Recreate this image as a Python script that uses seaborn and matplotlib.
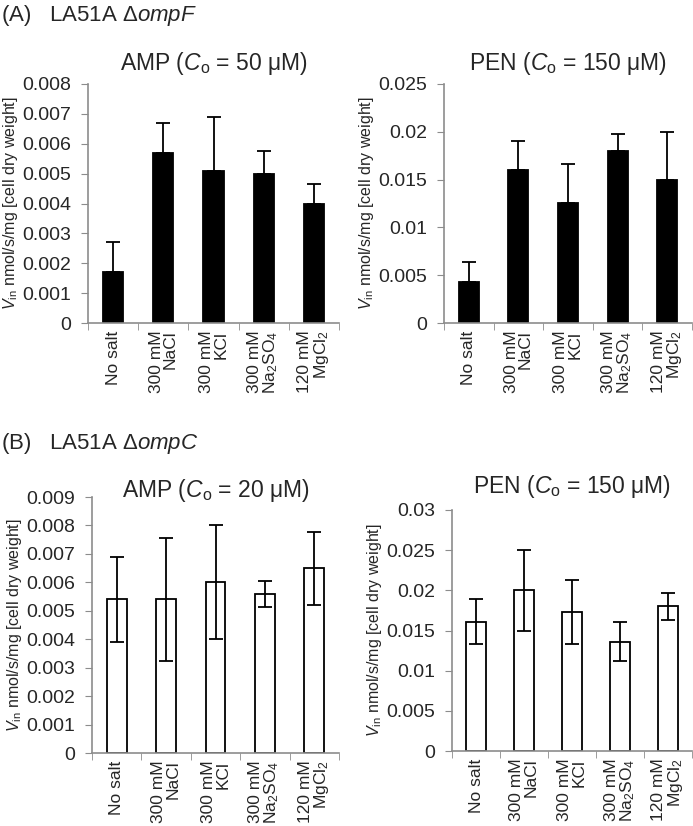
import numpy as np
import pandas as pd
import seaborn as sns
import matplotlib.pyplot as plt
from matplotlib.ticker import FuncFormatter, FixedLocator

# categories (salt conditions)
salts = ["No salt", "300 mM\nNaCl", "300 mM\nKCl", "300 mM\nNa$_2$SO$_4$", "120 mM\nMgCl$_2$"]

# (A) LA51A ompF - bar value and upper error
a_amp = [0.0017, 0.0057, 0.0051, 0.0050, 0.0040]
a_amp_err = [0.0010, 0.0010, 0.0018, 0.00075, 0.00065]
a_pen = [0.0043, 0.0160, 0.0126, 0.0180, 0.0150]
a_pen_err = [0.0021, 0.0030, 0.0040, 0.0018, 0.0050]

# (B) LA51A ompC - bar value and symmetric error
b_amp = [0.0054, 0.0054, 0.0060, 0.0056, 0.0065]
b_amp_err = [0.0015, 0.00215, 0.0020, 0.00045, 0.00128]
b_pen = [0.0161, 0.0200, 0.0173, 0.0136, 0.0180]
b_pen_err = [0.0028, 0.0050, 0.0040, 0.0024, 0.0017]

sns.set_style("white")
plt.rcParams['font.family'] = ['Liberation Sans', 'DejaVu Sans']
plt.rcParams['mathtext.fontset'] = 'custom'
plt.rcParams['mathtext.rm'] = 'Liberation Sans'
plt.rcParams['mathtext.it'] = 'Liberation Sans:italic'

fig = plt.figure(figsize=(6.93, 8.26), dpi=100)
W, H = 693, 826


def box(l, r, t, b):
    return [l / W, 1 - b / H, (r - l) / W, (b - t) / H]


def panel(rect, vals, errs, ymax, step, title, filled, upper_only, tpad):
    ax = fig.add_axes(rect)
    df = pd.DataFrame({"salt": salts, "v": vals})
    face = "black" if filled else "white"
    sns.barplot(data=df, x="salt", y="v", color=face, edgecolor="black",
                linewidth=1.3, width=0.4, saturation=1, errorbar=None, ax=ax)
    x = np.arange(len(vals))
    if upper_only:
        yerr = [np.zeros(len(errs)), errs]
    else:
        yerr = errs
    ax.errorbar(x, vals, yerr=yerr, fmt="none", ecolor="black",
                elinewidth=1.3, capsize=5, capthick=1.3)
    ax.set_xlim(-0.5, 4.5)
    ax.set_ylim(0, ymax)
    ax.set_yticks(np.arange(0, ymax + step / 2, step))
    ax.yaxis.set_major_formatter(FuncFormatter(lambda v, p: "%g" % round(v, 4)))
    ax.set_xlabel("")
    ax.set_ylabel("$\\it{V}_{\\rm in}$ nmol/s/mg [cell dry weight]", fontsize=11.5, labelpad=2)
    ax.set_title(title, fontsize=16.5, pad=tpad)
    for s in ["top", "right"]:
        ax.spines[s].set_visible(False)
    for s in ["left", "bottom"]:
        ax.spines[s].set_color("#8c8c8c")
        ax.spines[s].set_linewidth(1.2)
    ax.tick_params(axis="y", which="major", left=True, length=5, color="#8c8c8c",
                   labelsize=14, direction="out", pad=7)
    ax.tick_params(axis="x", which="major", bottom=False, labelsize=12.5, pad=2)
    ax.xaxis.set_minor_locator(FixedLocator(np.arange(-0.5, 5, 1)))
    ax.tick_params(axis="x", which="minor", bottom=True, length=5, color="#8c8c8c",
                   direction="out")
    ax.set_xticks(x)
    ax.set_xticklabels(salts, rotation=90, ha="center", va="top",
                       multialignment="right", linespacing=0.95)
    return ax


panel(box(88, 339, 84, 323), a_amp, a_amp_err, 0.008, 0.001,
      "AMP ($\\it{C}_{\\rm o}$ = 50 μM)", True, True, 10)
panel(box(444, 692, 84, 323), a_pen, a_pen_err, 0.025, 0.005,
      "PEN ($\\it{C}_{\\rm o}$ = 150 μM)", True, True, 10)
panel(box(92, 339, 497, 753), b_amp, b_amp_err, 0.009, 0.001,
      "AMP ($\\it{C}_{\\rm o}$ = 20 μM)", False, False, 0)
panel(box(452, 692, 510, 751), b_pen, b_pen_err, 0.030, 0.005,
      "PEN ($\\it{C}_{\\rm o}$ = 150 μM)", False, False, 12)

fig.text(1 / W, 1 - 15 / H, "(A)   LA51A Δ$\\it{ompF}$", fontsize=16, va="center", ha="left")
fig.text(1 / W, 1 - 443 / H, "(B)   LA51A Δ$\\it{ompC}$", fontsize=16, va="center", ha="left")

plt.savefig("out.png", dpi=100)
